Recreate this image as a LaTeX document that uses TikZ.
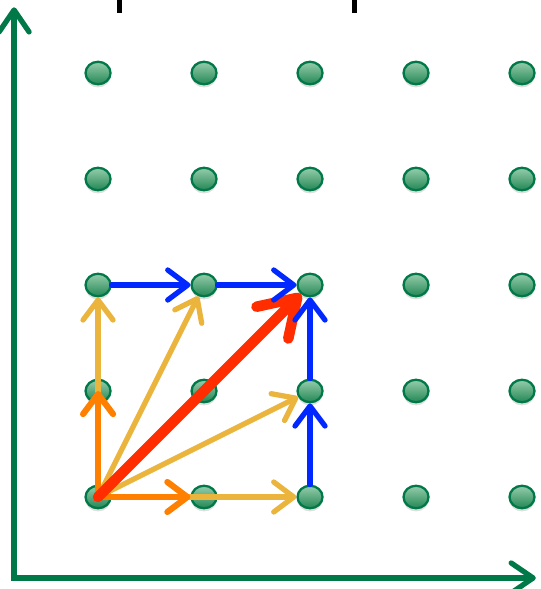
\documentclass[tikz,border=0pt]{standalone}
\usepackage{tikz}
\usetikzlibrary{shapes,arrows.meta,positioning,shadows}
\definecolor{latgreen}{RGB}{0,120,72}
\definecolor{latdot}{RGB}{35,135,85}
\definecolor{latdotlight}{RGB}{150,205,172}
\definecolor{latblue}{RGB}{0,40,255}
\definecolor{latgold}{RGB}{235,180,60}
\definecolor{latorange}{RGB}{255,128,0}
\definecolor{latred}{RGB}{255,45,0}

\begin{document}
\begin{tikzpicture}[x=2.12cm, y=2.12cm,
  dot/.style={ellipse, draw=latgreen, line width=1.3pt, top color=latdotlight, bottom color=latdot,
    minimum width=0.5cm, minimum height=0.45cm, inner sep=0pt,
    drop shadow={shadow xshift=0pt, shadow yshift=-1.8pt, opacity=0.25}},
  vec/.style={-{Straight Barb[round,length=4mm,width=6mm]}, line width=3pt, line cap=round}]
  \useasboundingbox (-0.925,-0.868) rectangle (4.179,4.689);
  \fill (0.179,4.566) rectangle (0.226,4.75);
  \fill (2.396,4.566) rectangle (2.443,4.75);
  \coordinate (O) at (-0.792,-0.764);
  \coordinate (ytop) at (-0.792,4.62);
  \coordinate (xend) at (4.13,-0.764);
  \draw[latgreen, line width=3pt, {Straight Barb[round,length=4.4mm,width=6mm]}-{Straight Barb[round,length=4.4mm,width=6mm]}] (ytop) -- (O) -- (xend);
  \foreach \i in {0,...,4}
    \foreach \j in {0,...,4}
      \node[dot] (d\i\j) at (\i,\j) {};
  % yellow, orange, red from the origin
  \draw[vec, latgold] (d00.center) -- (d02);
  \draw[vec, latgold] (d00.center) -- (d12);
  \draw[vec, latgold] (d00.center) -- (d21);
  \draw[vec, latgold] (d00.center) -- (d20);
  \draw[vec, latorange, line width=3.5pt] (d00.center) -- (d01.center);
  \draw[vec, latorange, line width=3.5pt] (d00.center) -- (d10);
  \draw[-{Straight Barb[round,length=7mm,width=9mm]}, latred, line width=6pt, line cap=round] (d00.center) -- (d22);
  % blue steps
  \draw[vec, latblue] (d02) -- (d12);
  \draw[vec, latblue] (d12) -- (d22);
  \draw[vec, latblue] (d20) -- (d21);
  \draw[vec, latblue] (d21) -- (d22);
\end{tikzpicture}
\end{document}
